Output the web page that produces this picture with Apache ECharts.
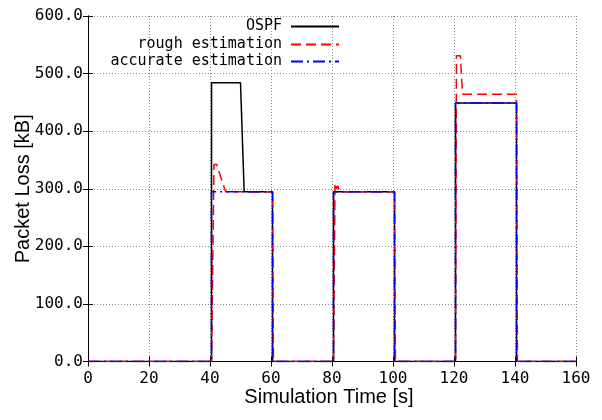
<!DOCTYPE html>
<html>
<head>
<meta charset="utf-8">
<script src="https://cdn.jsdelivr.net/npm/echarts@6/dist/echarts.min.js"></script>
<style>html,body{margin:0;padding:0;background:#fff;}#c{width:602px;height:420px;}</style>
</head>
<body>
<div id="c"></div>
<script>
// Data
const seriesNames = ['OSPF', 'rough estimation', 'accurate estimation'];
const xTicks = [0, 20, 40, 60, 80, 100, 120, 140, 160];
const yTicks = [0, 100, 200, 300, 400, 500, 600];

const ospfT = [0, 40.5, 40.5, 50.0, 51.2, 60.5, 60.5, 80.5, 80.5, 100.5, 100.5, 120.5, 120.5, 140.5, 140.5, 160];
const ospfV = [0, 0, 484, 484, 295, 295, 0, 0, 295, 295, 0, 0, 449, 449, 0, 0];

const roughT = [0, 40.5, 41.3, 42.2, 45.1, 60.5, 60.8, 80.5, 81.0, 81.4, 81.9, 82.5, 100.5, 100.8, 120.5, 120.8, 122.1, 122.8, 140.5, 140.8, 160];
const roughV = [0, 0, 342, 342, 295, 295, 0, 0, 310, 300, 305, 295, 295, 0, 0, 531, 531, 464, 464, 0, 0];

const accT = [0, 40.5, 40.5, 60.5, 60.5, 80.5, 80.5, 100.5, 100.5, 120.5, 120.5, 140.5, 140.5, 160];
const accV = [0, 0, 295, 295, 0, 0, 295, 295, 0, 0, 449, 449, 0, 0];

const pairs = (t, v) => t.map((x, i) => [x, v[i]]);

const mono = 'DejaVu Sans Mono';
const sans = 'Liberation Sans';
const gridLine = { show: true, lineStyle: { color: '#8a8a8a', type: [1, 2], width: 1 } };
const tick = { show: true, inside: true, length: 5, lineStyle: { color: '#000', width: 1 } };
const axLine = { show: true, lineStyle: { color: '#000', width: 1 } };

const chart = echarts.init(document.getElementById('c'), null, { renderer: 'canvas' });

function mkLegend(name, top) {
  return {
    data: [name], right: 262, top: top, padding: 0, align: 'right',
    itemWidth: 48, itemHeight: 14, selectedMode: false,
    itemStyle: { opacity: 0 },
    textStyle: { fontFamily: mono, fontSize: 15, color: '#000', padding: [0, 4, 0, 0], lineHeight: 14 }
  };
}

chart.setOption({
  animation: false,
  backgroundColor: '#fff',
  grid: { left: 88, right: 26, top: 16, bottom: 58.5, containLabel: false, outerBoundsMode: 'none' },
  legend: [mkLegend(seriesNames[0], 19), mkLegend(seriesNames[1], 37), mkLegend(seriesNames[2], 54)],
  xAxis: [
    {
      type: 'value', min: xTicks[0], max: xTicks[xTicks.length - 1], interval: 20, position: 'bottom',
      axisLine: axLine, axisTick: tick, splitLine: gridLine,
      axisLabel: { fontFamily: mono, fontSize: 16, color: '#000', margin: 9 },
      name: 'Simulation Time [s]', nameLocation: 'middle', nameGap: 26, nameMoveOverlap: false,
      nameTextStyle: { fontFamily: sans, fontSize: 20, color: '#000', padding: [0, 6, 0, 0] }
    },
    {
      type: 'value', min: xTicks[0], max: xTicks[xTicks.length - 1], interval: 20, position: 'top',
      axisLine: axLine, axisTick: tick, splitLine: { show: false }, axisLabel: { show: false }
    }
  ],
  yAxis: [
    {
      type: 'value', min: yTicks[0], max: yTicks[yTicks.length - 1], interval: 100, position: 'left',
      axisLine: axLine, axisTick: tick, splitLine: gridLine,
      axisLabel: { fontFamily: mono, fontSize: 16, color: '#000', margin: 5, formatter: v => v.toFixed(1) },
      name: 'Packet Loss [kB]', nameLocation: 'middle', nameGap: 55, nameRotate: 90, nameMoveOverlap: false,
      nameTextStyle: { fontFamily: sans, fontSize: 20, color: '#000' }
    },
    {
      type: 'value', min: yTicks[0], max: yTicks[yTicks.length - 1], interval: 100, position: 'right',
      axisLine: axLine, axisTick: tick, splitLine: { show: false }, axisLabel: { show: false }
    }
  ],
  series: [
    {
      name: seriesNames[0], type: 'line', data: pairs(ospfT, ospfV), showSymbol: false, symbol: 'none',
      lineStyle: { color: '#000', width: 1.5, type: 'solid' }, itemStyle: { color: '#000' }
    },
    {
      name: seriesNames[1], type: 'line', data: pairs(roughT, roughV), showSymbol: false, symbol: 'none',
      lineStyle: { color: '#ff0000', width: 1.5, type: [10, 5] }, itemStyle: { color: '#ff0000' }
    },
    {
      name: seriesNames[2], type: 'line', data: pairs(accT, accV), showSymbol: false, symbol: 'none',
      lineStyle: { color: '#0000ff', width: 1.5, type: [12, 4, 2, 4] }, itemStyle: { color: '#0000ff' }
    }
  ]
});
</script>
</body>
</html>
